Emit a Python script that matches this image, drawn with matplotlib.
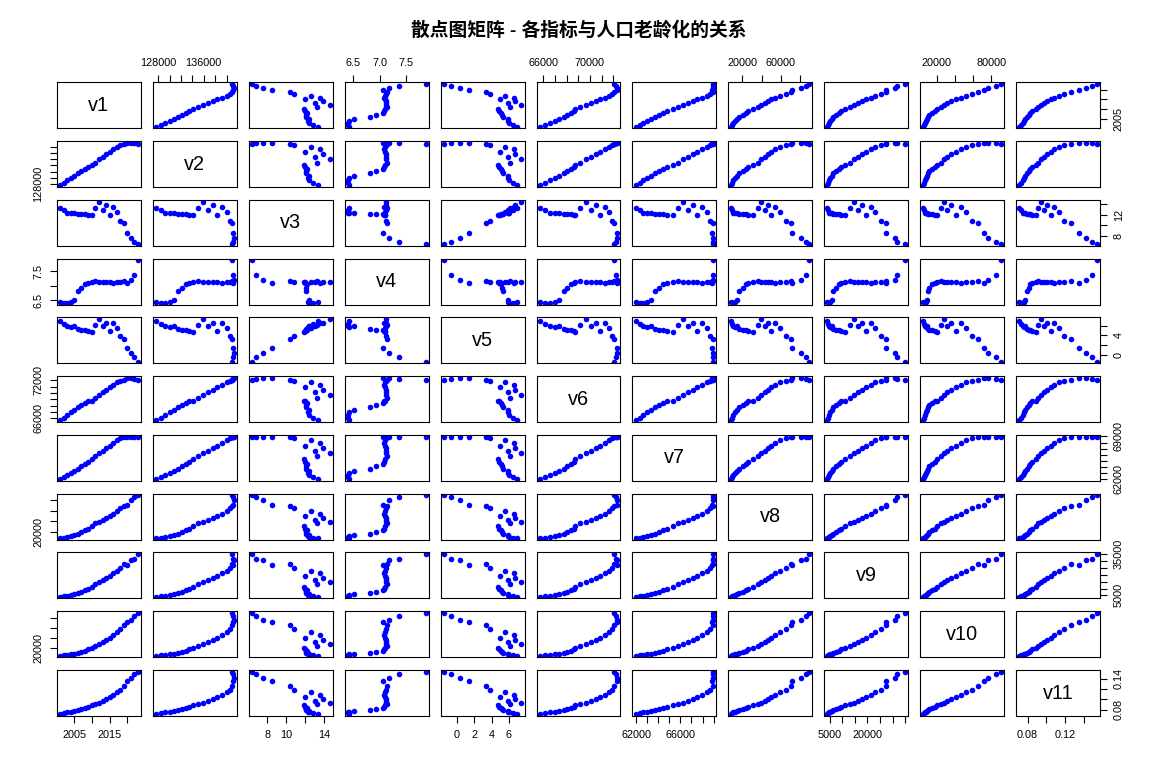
import matplotlib
matplotlib.use("Agg")
import matplotlib.pyplot as plt

plt.rcParams['font.family'] = ['Liberation Sans', 'Noto Sans CJK SC', 'DejaVu Sans']

names = ["v1", "v2", "v3", "v4", "v5", "v6", "v7", "v8", "v9", "v10", "v11"]

v1 = list(range(2001, 2024))
v2 = [127627, 128453, 129227, 129988, 130756, 131448, 132129, 132802, 133450, 134091, 134916, 135922,
      136726, 137646, 138326, 139232, 140011, 140541, 141008, 141212, 141260, 141175, 140967]
v3 = [13.38, 12.86, 12.41, 12.29, 12.40, 12.09, 12.10, 12.14, 11.95, 11.90, 13.27, 14.57,
      13.03, 13.83, 11.99, 13.57, 12.64, 10.86, 10.41, 8.52, 7.52, 6.77, 6.39]
v4 = [6.43, 6.41, 6.40, 6.42, 6.51, 6.81, 6.93, 7.06, 7.08, 7.11, 7.14, 7.13,
      7.13, 7.12, 7.11, 7.09, 7.11, 7.13, 7.14, 7.07, 7.18, 7.37, 7.87]
v5 = [6.95, 6.45, 6.01, 5.87, 5.89, 5.28, 5.17, 5.08, 4.87, 4.79, 6.13, 7.43,
      5.90, 6.71, 4.93, 6.53, 5.58, 3.81, 3.34, 1.45, 0.34, -0.60, -1.48]
v6 = [65672, 66115, 66556, 66976, 67375, 67728, 68048, 68357, 68647, 68748, 69161, 69660,
      70063, 70522, 70857, 71307, 71650, 71864, 72039, 72357, 72311, 72206, 72032]
v7 = [61955, 62338, 62671, 63012, 63381, 63720, 64081, 64445, 64803, 65343, 65755, 66262,
      66663, 67124, 67469, 67925, 68361, 68677, 68969, 68855, 68949, 68969, 68935]
v8 = [8717, 9506, 10666, 12487, 14368, 16738, 20494, 24100, 26180, 30808, 36277, 39771,
      43497, 46912, 49922, 53783, 59592, 65534, 70078, 71828, 81370, 85698, 89358]
v9 = [3987, 4301, 4606, 5138, 5771, 6416, 7572, 8707, 9514, 10919, 13134, 14699,
      16190, 17778, 19397, 21285, 22935, 25245, 27504, 27439, 31013, 31718, 35000]
v10 = [5026, 5790, 6584, 7590, 8660, 9843, 11574, 14535, 17542, 19980, 24346, 28119,
       31669, 35312, 40975, 46345, 52598, 59122, 65841, 72175, 76845, 84847, 90576]
v11 = [0.071, 0.073, 0.075, 0.076, 0.077, 0.079, 0.081, 0.083, 0.085, 0.089, 0.091, 0.094,
       0.097, 0.101, 0.105, 0.108, 0.114, 0.119, 0.126, 0.135, 0.142, 0.149, 0.154]

data = [v1, v2, v3, v4, v5, v6, v7, v8, v9, v10, v11]

# tick positions and their text for each variable
tick_pos = [
    [2005, 2010, 2015, 2020],
    [128000, 130000, 132000, 134000, 136000, 138000, 140000],
    [8, 10, 12, 14],
    [6.5, 7.0, 7.5],
    [0, 2, 4, 6],
    [66000, 67000, 68000, 69000, 70000, 71000, 72000],
    [62000, 63000, 64000, 65000, 66000, 67000, 68000, 69000],
    [20000, 40000, 60000, 80000],
    [5000, 10000, 15000, 20000, 25000, 30000, 35000],
    [20000, 40000, 60000, 80000],
    [0.08, 0.10, 0.12, 0.14],
]
tick_fmt = ["{:.0f}", "{:.0f}", "{:.0f}", "{:.1f}", "{:.0f}", "{:.0f}",
            "{:.0f}", "{:.0f}", "{:.0f}", "{:.0f}", "{:.2f}"]

# labels that R actually printed on each side
top_shown = {1: ["128000", "136000"], 3: ["6.5", "7.0", "7.5"], 5: ["66000", "70000"],
             7: ["20000", "60000"], 9: ["20000", "80000"]}
bottom_shown = {0: ["2005", "2015"], 2: ["8", "10", "14"], 4: ["0", "2", "4", "6"],
                6: ["62000", "66000"], 8: ["5000", "20000"], 10: ["0.08", "0.12"]}
left_shown = {1: ["128000"], 3: ["6.5", "7.5"], 5: ["66000", "72000"],
              7: ["20000"], 9: ["20000"]}
right_shown = {0: ["2005"], 2: ["8", "12"], 4: ["0", "4"], 6: ["62000", "69000"],
               8: ["5000", "35000"], 10: ["0.08", "0.14"]}


def lims(v):
    lo, hi = min(v), max(v)
    r = hi - lo
    return lo - 0.04 * r, hi + 0.04 * r


def tick_labels(k, shown):
    out = []
    for t in tick_pos[k]:
        s = tick_fmt[k].format(t)
        out.append(s if s in shown else "")
    return out


n = len(data)
fig, axes = plt.subplots(n, n, figsize=(11.57, 7.74), dpi=100)
fig.subplots_adjust(left=0.0493, right=0.9507, bottom=0.0749, top=0.8937,
                    wspace=0.143, hspace=0.278)

for i in range(n):
    for j in range(n):
        ax = axes[i, j]
        if i == j:
            ax.text(0.5, 0.5, names[i], transform=ax.transAxes, ha="center", va="center",
                    fontsize=14.3)
        else:
            ax.scatter(data[j], data[i], s=16, c="blue", linewidths=0)
        ax.set_xlim(*lims(data[j]))
        ax.set_ylim(*lims(data[i]))
        ax.set_xticks([])
        ax.set_yticks([])
        for sp in ax.spines.values():
            sp.set_linewidth(0.8)
        ax.tick_params(length=5, width=0.8, labelsize=7.8, pad=5)

        if i == 0 and j in top_shown:
            ax.set_xticks(tick_pos[j], labels=tick_labels(j, top_shown[j]))
            ax.xaxis.tick_top()
        if i == n - 1 and j in bottom_shown:
            ax.set_xticks(tick_pos[j], labels=tick_labels(j, bottom_shown[j]))
        if j == 0 and i in left_shown:
            ax.set_yticks(tick_pos[i], labels=tick_labels(i, left_shown[i]),
                          rotation=90, va="center")
        if j == n - 1 and i in right_shown:
            ax.set_yticks(tick_pos[i], labels=tick_labels(i, right_shown[i]),
                          rotation=90, va="center")
            ax.yaxis.tick_right()

fig.text(0.5, 0.961, "散点图矩阵 - 各指标与人口老龄化的关系", ha="center", va="center",
         fontsize=13.5, fontweight="bold")

fig.savefig("out.png", dpi=100)
